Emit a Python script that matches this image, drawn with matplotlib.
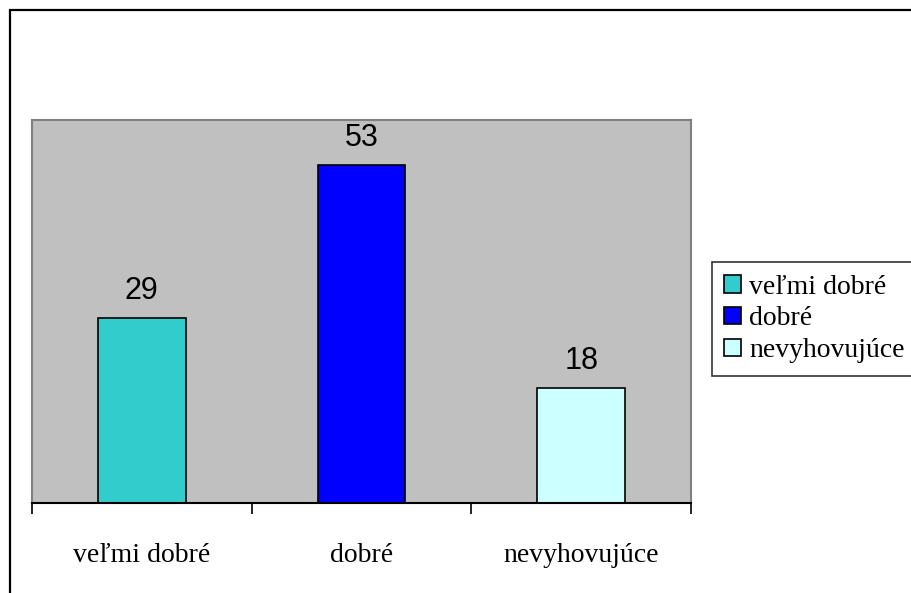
import matplotlib.pyplot as plt
from matplotlib.patches import Rectangle, Patch
import numpy as np

# data
categories = ['veľmi dobré', 'dobré', 'nevyhovujúce']
values = [29, 53, 18]
colors = ['#33CCCC', '#0000FF', '#CCFFFF']

W, H = 912, 593
fig = plt.figure(figsize=(W / 100, H / 100), dpi=100)

# outer chart border (right/bottom are cut off in the original)
fig.patches.append(Rectangle((10 / W, -0.2), 1.2, (H - 10) / H + 0.2,
                             transform=fig.transFigure, fill=False,
                             edgecolor='black', linewidth=1.6))

# plot area
ax = fig.add_axes([32 / W, (H - 503) / H, 659 / W, 383 / H])
ax.set_facecolor('#C0C0C0')
x = np.arange(len(categories))
bars = ax.bar(x, values, width=0.4, color=colors, edgecolor='black', linewidth=1.2)
for xi, v in zip(x, values):
    ax.text(xi, v + 1.9, str(v), ha='center', va='bottom',
            fontsize=22, family='Liberation Sans')

ax.set_xlim(-0.5, 2.5)
ax.set_ylim(0, 60)
ax.set_yticks([])
ax.set_xticks([-0.5, 0.5, 1.5, 2.5])
ax.set_xticklabels([])
ax.set_xticks(x, minor=True)
ax.set_xticklabels(categories, minor=True, fontsize=20, family='Liberation Serif')
ax.tick_params(axis='x', which='major', direction='out', length=8, width=1.2, color='black')
ax.tick_params(axis='x', which='minor', length=0, pad=29)

for side in ['left', 'top', 'right']:
    ax.spines[side].set_color('#808080')
    ax.spines[side].set_linewidth(1.5)
ax.spines['bottom'].set_color('black')
ax.spines['bottom'].set_linewidth(1.5)

handles = [Patch(facecolor=c, edgecolor='black', linewidth=1.2) for c in colors]
leg = fig.legend(handles, categories, loc='upper left',
                 bbox_to_anchor=(712 / W, (H - 262) / H),
                 prop={'family': 'Liberation Serif', 'size': 20},
                 frameon=True, fancybox=False, shadow=False,
                 handlelength=0.6, handleheight=0.6, handletextpad=0.3,
                 borderpad=0.45, labelspacing=0.25, borderaxespad=0)
leg.get_frame().set_edgecolor('black')
leg.get_frame().set_linewidth(1.2)

fig.savefig('out.png', dpi=100)
